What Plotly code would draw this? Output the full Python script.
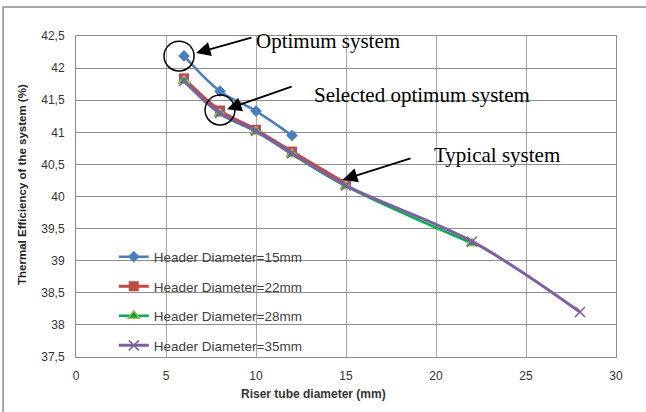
import plotly.graph_objects as go

# ---- data ----
x_15 = [6, 8, 10, 12]
y_15 = [42.19, 41.64, 41.33, 40.95]
x_22 = [6, 8, 10, 12, 15]
y_22 = [41.84, 41.34, 41.04, 40.70, 40.20]
x_28 = [6, 8, 10, 12, 15, 22]
y_28 = [41.80, 41.29, 41.01, 40.66, 40.16, 39.27]
x_35 = [6, 8, 10, 12, 15, 22, 28]
y_35 = [41.80, 41.30, 41.02, 40.67, 40.17, 39.30, 38.20]
names = ["Header Diameter=15mm", "Header Diameter=22mm",
         "Header Diameter=28mm", "Header Diameter=35mm"]
x_ticks = [0, 5, 10, 15, 20, 25, 30]
y_ticks = [37.5, 38, 38.5, 39, 39.5, 40, 40.5, 41, 41.5, 42, 42.5]

fig = go.Figure()
fig.add_trace(go.Scatter(x=x_15, y=y_15, name=names[0], mode="lines+markers",
                         line=dict(color="#4A7EBB", width=2.5, shape="spline"),
                         marker=dict(symbol="diamond", size=9, color="#4A7EBB"),
                         legendgroup="a"))
fig.add_trace(go.Scatter(x=x_22, y=y_22, name=names[1], mode="lines+markers",
                         line=dict(color="#BE4B48", width=3, shape="spline"),
                         marker=dict(symbol="square", size=10, color="#BE4B48"),
                         legendgroup="b"))
fig.add_trace(go.Scatter(x=x_28, y=y_28, name=names[2], mode="lines+markers",
                         line=dict(color="#00B050", width=2.5, shape="spline"),
                         marker=dict(symbol="triangle-up", size=10, color="#00A040",
                                     line=dict(color="#9BBB59", width=1.5)),
                         legendgroup="c"))
fig.add_trace(go.Scatter(x=x_35, y=y_35, name=names[3], mode="lines+markers",
                         line=dict(color="#7D60A0", width=3, shape="spline"),
                         marker=dict(symbol="x-thin", size=10,
                                     line=dict(color="#7D60A0", width=1.5)),
                         legendgroup="d"))

serif = dict(family="Liberation Serif", size=21, color="#000")
ann = []
# text labels
ann.append(dict(x=9.9, y=42.42, text="Optimum system", xanchor="left", yanchor="middle",
                showarrow=False, font=serif))
ann.append(dict(x=13.1, y=41.58, text="Selected optimum system", xanchor="left",
                yanchor="middle", showarrow=False, font=serif))
ann.append(dict(x=19.75, y=40.65, text="Typical system", xanchor="left",
                yanchor="middle", showarrow=False, font=serif))
# arrows
for (tx, ty, sx, sy) in [(6.67, 42.235, 9.83, 42.48),
                         (8.39, 41.36, 12.06, 41.72),
                         (14.83, 40.26, 18.67, 40.60)]:
    ann.append(dict(x=tx, y=ty, ax=sx, ay=sy, axref="x", ayref="y", xref="x", yref="y",
                    text="", showarrow=True, arrowhead=2, arrowsize=1.6,
                    arrowwidth=1.8, arrowcolor="#000"))
# axis titles
ann.append(dict(xref="paper", yref="paper", x=-0.1, y=0.536, textangle=-90,
                text="<b>Thermal Efficiency of the system (%)</b>", showarrow=False,
                xanchor="center", yanchor="middle",
                font=dict(family="Liberation Sans", size=11.5, color="#222")))
ann.append(dict(xref="paper", yref="paper", x=0.44, y=-0.115,
                text="<b>Riser tube diameter (mm)</b>", showarrow=False,
                xanchor="center", yanchor="middle",
                font=dict(family="Liberation Sans", size=12, color="#333")))

shapes = [
    dict(type="circle", xref="x", yref="y", x0=4.89, x1=6.56, y0=41.955, y1=42.42,
         line=dict(color="#000", width=1.5)),
    dict(type="circle", xref="x", yref="y", x0=7.17, x1=8.83, y0=41.114, y1=41.58,
         line=dict(color="#000", width=1.5)),
    dict(type="rect", xref="paper", yref="paper", x0=-0.135, x1=1.12, y0=-0.2, y1=1.09,
         line=dict(color="#8c8c8c", width=1.5), layer="below"),
]

fig.update_layout(
    width=646, height=412,
    margin=dict(l=76, r=30, t=36, b=55),
    paper_bgcolor="white", plot_bgcolor="white",
    separators=",.",
    font=dict(family="Liberation Sans", size=11, color="#333"),
    showlegend=True,
    legend=dict(x=0.07, y=0.36, xanchor="left", yanchor="top",
                bgcolor="rgba(0,0,0,0)", tracegroupgap=9,
                font=dict(family="Liberation Sans", size=13.5, color="#404040")),
    annotations=ann, shapes=shapes,
    xaxis=dict(range=[0, 30], tickvals=x_ticks, showgrid=True, gridcolor="#a6a6a6",
               gridwidth=1, showline=True, linecolor="#8c8c8c", mirror=True,
               zeroline=False, ticks="", ticklabelstandoff=8,
               tickfont=dict(size=12, color="#333")),
    yaxis=dict(range=[37.5, 42.5], tickvals=y_ticks, showgrid=True, gridcolor="#8c8c8c",
               gridwidth=1, showline=True, linecolor="#8c8c8c", mirror=True,
               zeroline=False, ticks="", tickformat=".1~f", ticklabelstandoff=8,
               tickfont=dict(size=12, color="#333")),
)
fig.write_html("out.html", config={"displayModeBar": False},
               post_script="document.body.style.margin='0px';")
